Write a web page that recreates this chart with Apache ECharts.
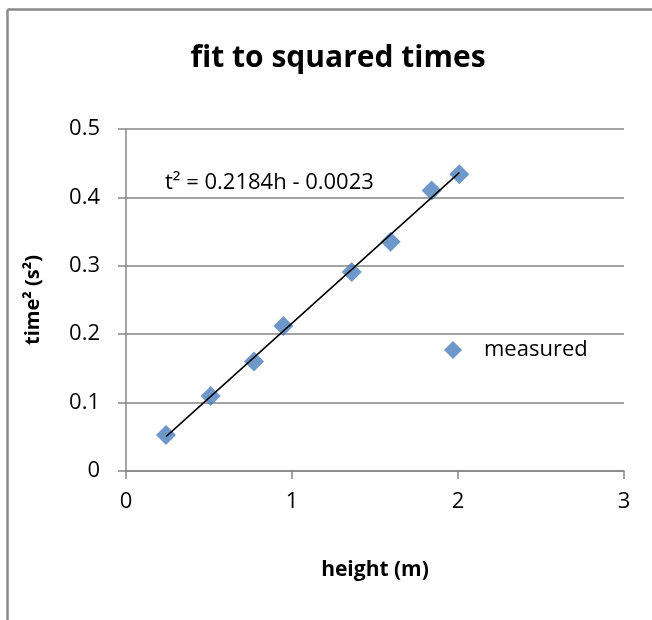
<!DOCTYPE html>
<html>
<head>
<meta charset="utf-8">
<script src="https://cdn.jsdelivr.net/npm/echarts@6/dist/echarts.min.js"></script>
<style>
html,body{margin:0;padding:0;background:#fff;overflow:hidden;}
#c{width:652px;height:620px;}
</style>
</head>
<body>
<div id="c"></div>
<script>
const heights = [0.241, 0.510, 0.771, 0.948, 1.360, 1.594, 1.841, 2.008];
const times2 = [0.0526, 0.1096, 0.160, 0.212, 0.291, 0.335, 0.410, 0.434];
const fitSlope = 0.2184;
const fitIntercept = -0.0023;
const xTicks = [0, 1, 2, 3];
const yTicks = [0, 0.1, 0.2, 0.3, 0.4, 0.5];
const titleText = 'fit to squared times';
const equationText = 't\u00b2 = 0.2184h - 0.0023';
const seriesName = 'measured';
const xName = 'height (m)';
const yName = 'time\u00b2 (s\u00b2)';

const points = heights.map((h, i) => [h, times2[i]]);
const xMin = Math.min(...heights), xMax = Math.max(...heights);
const trend = [[xMin, fitSlope * xMin + fitIntercept], [xMax, fitSlope * xMax + fitIntercept]];

const FONT = '"Open Sans", "Noto Sans", sans-serif';
const chart = echarts.init(document.getElementById('c'), null, {renderer: 'canvas'});
chart.setOption({
  animation: false,
  backgroundColor: '#ffffff',
  textStyle: {fontFamily: FONT},
  title: {
    text: titleText,
    left: 333, top: 38, textAlign: 'center',
    textStyle: {fontFamily: FONT, fontSize: 30, fontWeight: 'bold', color: '#000'}
  },
  graphic: [
    {type: 'line', shape: {x1: 7.5, y1: 9.5, x2: 660, y2: 9.5},
     style: {stroke: '#8a8a8a', lineWidth: 2.5}, silent: true},
    {type: 'line', shape: {x1: 7.5, y1: 9.5, x2: 7.5, y2: 630},
     style: {stroke: '#8a8a8a', lineWidth: 2.5}, silent: true},
    {type: 'text', left: 165, top: 172,
     style: {text: equationText, font: '22px ' + FONT, fill: '#000'}}
  ],
  legend: {
    data: [{name: seriesName, icon: 'diamond'}],
    left: 439, top: 334,
    itemWidth: 18, itemHeight: 18, itemGap: 10,
    textStyle: {fontFamily: FONT, fontSize: 22, color: '#000', padding: [0, 0, 0, 17]}
  },
  grid: {left: 126, top: 129, right: 28, bottom: 149, containLabel: false},
  xAxis: {
    type: 'value', min: xTicks[0], max: xTicks[xTicks.length - 1], interval: 1,
    name: xName, nameLocation: 'middle', nameGap: 89,
    nameTextStyle: {fontFamily: FONT, fontSize: 21, fontWeight: 'bold', color: '#000'},
    axisLine: {lineStyle: {color: '#868686', width: 1.5}},
    axisTick: {show: true, inside: false, length: 8, lineStyle: {color: '#868686', width: 1.5}},
    axisLabel: {fontFamily: FONT, fontSize: 22, color: '#000', margin: 20},
    splitLine: {show: false}
  },
  yAxis: {
    type: 'value', min: yTicks[0], max: yTicks[yTicks.length - 1], interval: 0.1,
    name: yName, nameLocation: 'middle', nameGap: 83, nameRotate: 90,
    nameTextStyle: {fontFamily: FONT, fontSize: 20, fontWeight: 'bold', color: '#000'},
    axisLine: {show: true, lineStyle: {color: '#868686', width: 1.5}},
    axisTick: {show: true, inside: false, length: 8, lineStyle: {color: '#868686', width: 1.5}},
    axisLabel: {fontFamily: FONT, fontSize: 22, color: '#000', margin: 26,
      formatter: v => String(Math.round(v * 10) / 10)},
    splitLine: {show: true, lineStyle: {color: '#868686', width: 1.5}}
  },
  series: [
    {
      name: seriesName, type: 'scatter', data: points,
      symbol: 'diamond', symbolSize: 20,
      itemStyle: {color: '#4a7ebb'}, z: 3
    },
    {
      name: 'trend', type: 'line', data: trend,
      symbol: 'none', lineStyle: {color: '#000', width: 1.5}, z: 4,
      silent: true
    }
  ]
});
</script>
</body>
</html>
